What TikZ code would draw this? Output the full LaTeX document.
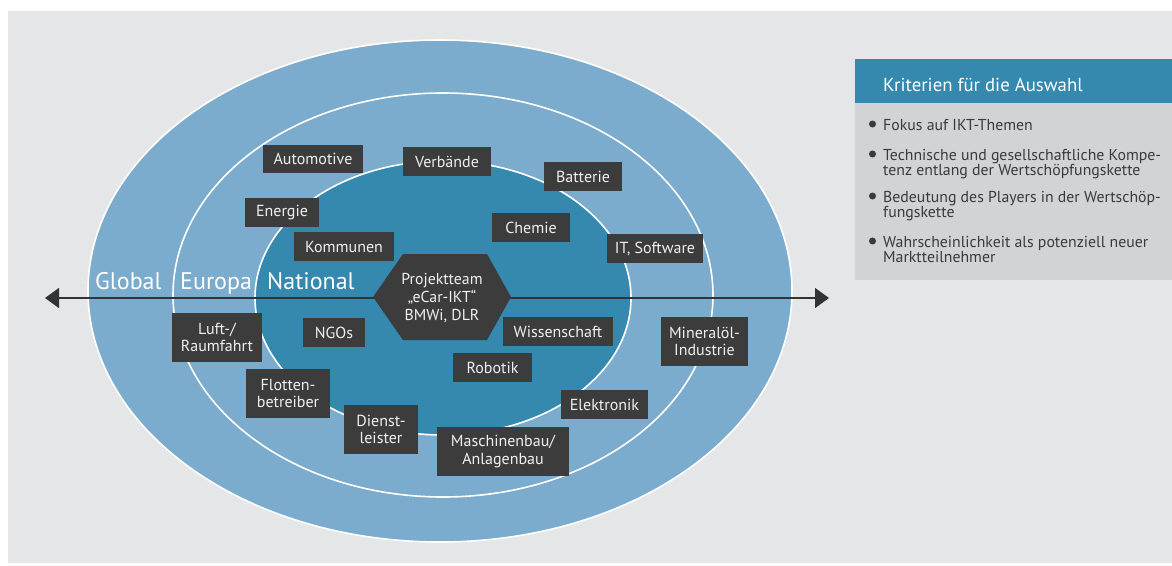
\documentclass[tikz,border=0pt]{standalone}
\usepackage{fontspec}
\setmainfont{PT Sans}
\usetikzlibrary{arrows.meta}
\definecolor{bg}{HTML}{E5E6E7}
\definecolor{ringlight}{HTML}{7BACCD}
\definecolor{ringdark}{HTML}{3588AE}
\definecolor{boxgrey}{HTML}{3C3C3C}
\definecolor{panelbody}{HTML}{D2D3D5}
\definecolor{txt}{HTML}{3A3A3A}
\definecolor{axis}{HTML}{333333}
\tikzset{
  ring/.style={draw=white, line width=1.6pt},
  box/.style={fill=boxgrey, text=white!94!black, inner sep=0pt, align=center,
    font=\fontsize{16}{17.5}\selectfont},
  ringlabel/.style={text=white, font=\fontsize{24}{26}\selectfont, anchor=base west, inner sep=0pt},
  item/.style={text=txt, anchor=base west, inner sep=0pt,
    font=\fontsize{15.8}{16}\selectfont},
  bulletdot/.style={fill=txt, circle, inner sep=0pt, minimum size=7pt},
}
\begin{document}
\begin{tikzpicture}[x=1pt,y=-1pt]
\useasboundingbox (0,0) rectangle (1172,565);
\fill[bg] (8,11) rectangle (1172,563);
% rings
\draw[ring, fill=ringlight] (440,291) ellipse [x radius=352, y radius=251];
\draw[ring, fill=ringlight] (443,295) ellipse [x radius=270, y radius=202];
\draw[ring, fill=ringdark] (443,298) ellipse [x radius=188, y radius=137];
% ring labels
\node[ringlabel] (global) at (95,289) {Global};
\node[ringlabel] (europa) at (180,289) {Europa};
\node[ringlabel] (national) at (267,289) {National};
% axis
\coordinate (axl) at (45,298);
\coordinate (axr) at (829,298);
\draw[axis, line width=1.4pt, {Triangle[length=14pt,width=20pt]}-{Triangle[length=14pt,width=20pt]}] (axl) -- (axr);
% hexagon
\fill[boxgrey] (373,297) -- (403,254) -- (487,254) -- (511,297) -- (487,340) -- (403,340) -- cycle;
\node[box, fill=none, font=\fontsize{15.8}{18}\selectfont] (hex) at (442,298) {Projektteam\\„eCar-IKT“\\BMWi, DLR};
% boxes
\node[box, minimum width=100, minimum height=28] (automotive) at (313,159) {Automotive};
\node[box, minimum width=88, minimum height=29] (verbaende) at (447,161.5) {Verbände};
\node[box, minimum width=74, minimum height=29] (energie) at (282,212.5) {Energie};
\node[box, minimum width=100, minimum height=29] (kommunen) at (344,246.5) {Kommunen};
\node[box, minimum width=78, minimum height=29] (chemie) at (531,227.5) {Chemie};
\node[box, minimum width=78, minimum height=29] (batterie) at (583,176.5) {Batterie};
\node[box, minimum width=96, minimum height=29] (itsw) at (655,248.5) {IT, Software};
\node[box, minimum width=90, minimum height=49] (luft) at (217,337.5) {Luft-/\\Raumfahrt};
\node[box, minimum width=62, minimum height=29] (ngos) at (334,332.5) {NGOs};
\node[box, minimum width=84, minimum height=49] (flotten) at (288,393.5) {Flotten-\\betreiber};
\node[box, minimum width=74, minimum height=49] (dienst) at (381,429.5) {Dienst-\\leister};
\node[box, minimum width=110, minimum height=29] (wissen) at (558,331.5) {Wissenschaft};
\node[box, minimum width=79, minimum height=29] (robotik) at (492.5,367.5) {Robotik};
\node[box, minimum width=87, minimum height=49] (mineral) at (704.5,341.5) {Mineralöl-\\Industrie};
\node[box, minimum width=87, minimum height=29] (elektronik) at (604.5,404.5) {Elektronik};
\node[box, minimum width=132, minimum height=49] (maschinen) at (503,451.5) {Maschinenbau/\\Anlagenbau};
% panel
\fill[ringdark] (855,59) rectangle (1172,103);
\fill[panelbody] (855,103) rectangle (1172,280);
\node[text=white, anchor=base west, inner sep=0pt, font=\fontsize{18.8}{20}\selectfont] (ptitle) at (883,91) {Kriterien für die Auswahl};
\node[bulletdot] (b1) at (872.5,124) {};
\node[item] (i1) at (883,130) {Fokus auf IKT-Themen};
\node[bulletdot] (b2) at (872.5,154) {};
\node[item] (i2a) at (883,160) {Technische und gesellschaftliche Kompe-};
\node[item] (i2b) at (883,175.5) {tenz entlang der Wertschöpfungskette};
\node[bulletdot] (b3) at (872.5,196) {};
\node[item] (i3a) at (883,202) {Bedeutung des Players in der Wertschöp-};
\node[item] (i3b) at (883,217.5) {fungskette};
\node[bulletdot] (b4) at (872.5,241) {};
\node[item] (i4a) at (883,247) {Wahrscheinlichkeit als potenziell neuer};
\node[item] (i4b) at (883,262.5) {Marktteilnehmer};
\end{tikzpicture}
\end{document}
